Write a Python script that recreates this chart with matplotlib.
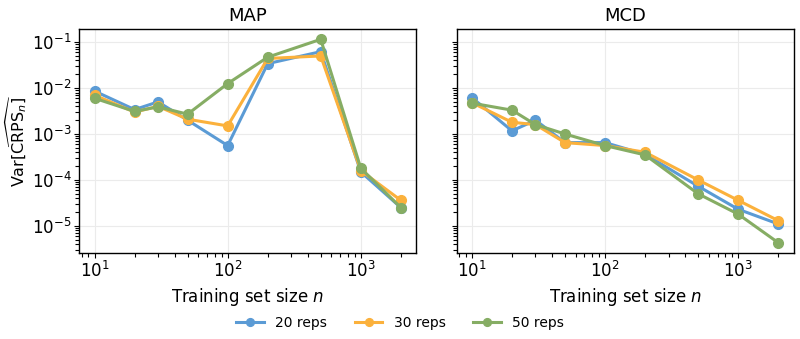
import matplotlib
matplotlib.use("Agg")
from matplotlib import pyplot as plt
from matplotlib.ticker import LogLocator

n = [10, 20, 30, 50, 100, 200, 500, 1000, 2000]

map_20 = [8.6e-3, 3.4e-3, 5.0e-3, 2.0e-3, 5.6e-4, 3.4e-2, 6.2e-2, 1.5e-4, 2.5e-5]
map_30 = [7.0e-3, 3.0e-3, 4.0e-3, 2.1e-3, 1.5e-3, 4.4e-2, 5.0e-2, 1.6e-4, 3.6e-5]
map_50 = [6.0e-3, 3.1e-3, 3.9e-3, 2.7e-3, 1.25e-2, 4.7e-2, 1.15e-1, 1.8e-4, 2.5e-5]

mcd_20 = [6.2e-3, 1.17e-3, 2.0e-3, 6.5e-4, 6.5e-4, 3.6e-4, 7.3e-5, 2.3e-5, 1.1e-5]
mcd_30 = [4.8e-3, 1.8e-3, 1.6e-3, 6.5e-4, 5.6e-4, 4.0e-4, 1.0e-4, 3.6e-5, 1.3e-5]
mcd_50 = [4.7e-3, 3.3e-3, 1.6e-3, 1.0e-3, 5.6e-4, 3.5e-4, 5.0e-5, 1.8e-5, 4.3e-6]

labels = ['20 reps', '30 reps', '50 reps']
colors = ['#5b9bd5', '#fbb13c', '#86ad64']

fig, axes = plt.subplots(1, 2, figsize=(8, 3.39), dpi=100, sharey=True)
fig.subplots_adjust(left=0.099, right=0.992, top=0.914, bottom=0.254, wspace=0.12)

panels = [('MAP', [map_20, map_30, map_50]), ('MCD', [mcd_20, mcd_30, mcd_50])]
for ax, (title, series) in zip(axes, panels):
    for vals, lab, c in zip(series, labels, colors):
        ax.plot(n, vals, '-o', color=c, lw=2.2, ms=7, label=lab)
    ax.set_xscale('log')
    ax.set_yscale('log')
    ax.xaxis.set_minor_locator(LogLocator(base=10, subs=range(2, 10), numticks=50))
    ax.yaxis.set_minor_locator(LogLocator(base=10, subs=range(2, 10), numticks=50))
    ax.set_title(title, fontsize=13)
    ax.set_xlabel('Training set size $n$', fontsize=12)
    ax.grid(True, which='major', color='#ebebeb', lw=0.8)
    ax.tick_params(labelsize=12, pad=2)
    ax.tick_params(which='minor', length=3, width=0.8)
    for s in ax.spines.values():
        s.set_color('black')
        s.set_linewidth(1.0)

axes[0].set_ylabel(r'Var$[\widehat{\mathrm{CRPS}_n}]$', fontsize=11.5, labelpad=2)
axes[1].tick_params(labelleft=False)

handles, labs = axes[0].get_legend_handles_labels()
leg = fig.legend(handles, labs, loc='lower center', ncol=3, frameon=False,
                 fontsize=10, bbox_to_anchor=(0.5, -0.01), markerscale=0.8)

plt.savefig('out.png', dpi=100)
